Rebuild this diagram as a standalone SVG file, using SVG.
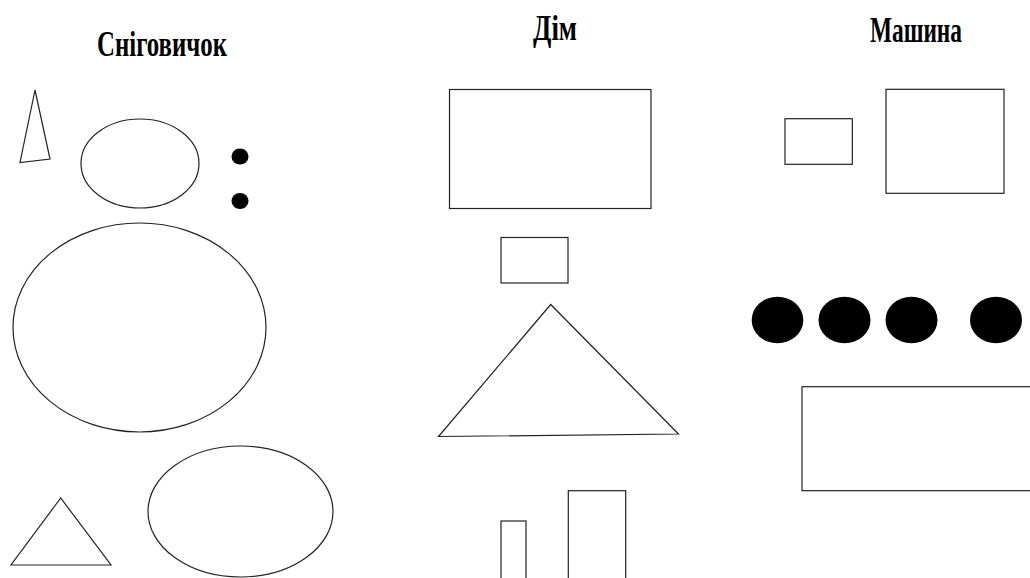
<svg xmlns="http://www.w3.org/2000/svg" width="1030" height="578" viewBox="0 0 1030 578">
<style>
.t{font-family:"Liberation Serif","Times New Roman",serif;font-weight:bold;font-size:36px;fill:#000}
.s{fill:none;stroke:#222;stroke-width:1.2}
.d{fill:#000;stroke:none}
</style>
<rect width="1030" height="578" fill="#fff"/>
<g id="snowman">
<text class="t" x="97" y="56" textLength="130" lengthAdjust="spacingAndGlyphs">Сніговичок</text>
<polygon class="s" points="35,90 20,162.5 50,159"/>
<ellipse class="s" cx="140" cy="163.5" rx="59" ry="44.5"/>
<ellipse class="d" cx="240" cy="156.5" rx="8.5" ry="8"/>
<ellipse class="d" cx="240" cy="201" rx="8.5" ry="8"/>
<ellipse class="s" cx="139.5" cy="327.5" rx="126.5" ry="104.5"/>
<polygon class="s" points="60.7,498 11,565 111,565"/>
<ellipse class="s" cx="240.5" cy="511.5" rx="92.5" ry="65.5"/>
</g>
<g id="house">
<text class="t" x="533" y="40" textLength="44" lengthAdjust="spacingAndGlyphs">Дім</text>
<rect class="s" x="449.5" y="89.5" width="201.5" height="119"/>
<rect class="s" x="501" y="237.5" width="67" height="45.5"/>
<polygon class="s" points="550.7,304.5 438.5,436.5 678.5,434"/>
<rect class="s" x="501" y="521" width="25" height="70"/>
<rect class="s" x="568.3" y="490.7" width="57.4" height="100"/>
</g>
<g id="car">
<text class="t" x="870" y="41.5" textLength="92" lengthAdjust="spacingAndGlyphs">Машина</text>
<rect class="s" x="785" y="118.7" width="67.3" height="45.6"/>
<rect class="s" x="886" y="89.3" width="118" height="104"/>
<ellipse class="d" cx="777.5" cy="320" rx="25.8" ry="23.3"/>
<ellipse class="d" cx="844.5" cy="320" rx="26" ry="23.3"/>
<ellipse class="d" cx="911.5" cy="320" rx="26" ry="23.3"/>
<ellipse class="d" cx="996" cy="320" rx="26" ry="23.3"/>
<rect class="s" x="802" y="386.7" width="240" height="104"/>
</g>
</svg>
